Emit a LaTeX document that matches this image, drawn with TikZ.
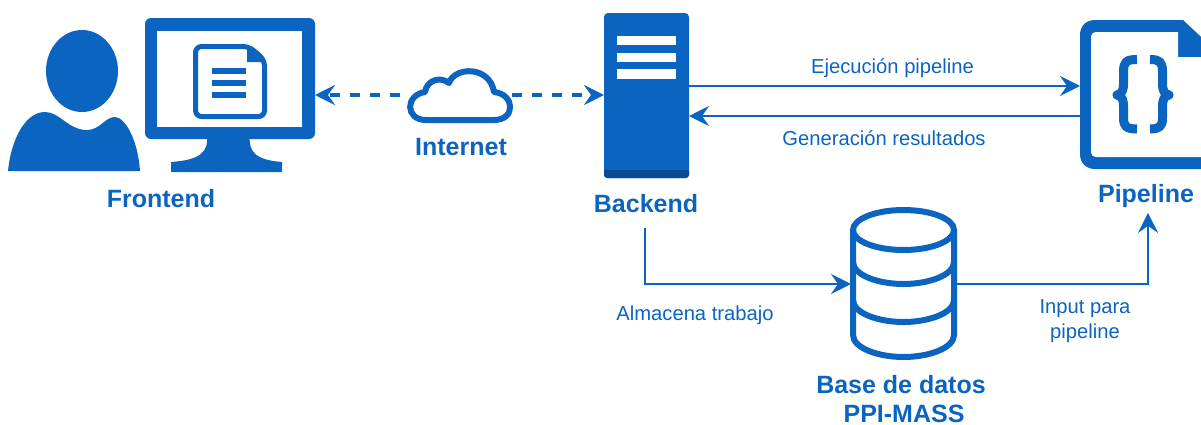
\documentclass[tikz,border=0pt]{standalone}
\usepackage{fontspec}
\setmainfont{Liberation Sans}
\usetikzlibrary{arrows.meta}
\definecolor{myBlue}{HTML}{0A64C0}
\definecolor{myDark}{HTML}{0A4A94}
\tikzstyle{iconBox} = [rectangle, inner sep=0pt, outer sep=0pt]
\tikzstyle{iconFill} = [iconBox, fill=myBlue, rounded corners=4pt]
\tikzstyle{bigLabel} = [text=myBlue, font=\fontsize{25}{30}\selectfont\bfseries, inner sep=0pt]
\tikzstyle{smallLabel} = [text=myBlue, font=\fontsize{20.2}{25}\selectfont, align=center, inner sep=0pt]
\tikzstyle{flow} = [draw=myBlue, line width=2.8pt, -{Stealth[length=20pt,width=20pt,inset=7pt]}]
\tikzstyle{netFlow} = [flow, line width=3.4pt, dash pattern=on 10pt off 10pt]
\tikzstyle{iconLine} = [draw=myBlue, line width=6pt]

\begin{document}
\begin{tikzpicture}[x=1pt,y=-1pt]
		\clip (0,0) rectangle (1201,424);
		
		% frontend
		\fill [myBlue] (82,71) ellipse (36 and 41);
		\fill [myBlue] (8,171) .. controls (11,140) and (25,112) .. (45,112) .. controls (60,112) and (68,130) .. (87,130) .. controls (100,130) and (105,117) .. (115,117) .. controls (125,117) and (138,140) .. (140,171) -- cycle;
		\fill [myBlue] (207,135) .. controls (209,152) and (200,160) .. (171,162) -- (171,172) -- (282,172) -- (282,162) .. controls (256,160) and (248,152) .. (250,135) -- cycle;
		\node [iconFill,rounded corners=6pt,minimum width=170pt,minimum height=121pt](monitor) at (230,78.5){};
		\node [iconBox,fill=white,minimum width=145pt,minimum height=96pt](screen) at (229.5,79){};
		\draw [myBlue,line width=5pt,rounded corners=6pt] (195.5,46.5) -- (249,46.5) -- (264.5,60) -- (264.5,116.5) -- (195.5,116.5) -- cycle;
		\fill [myBlue] (247,48) -- (247,62) -- (265,62) -- cycle;
		\foreach \yy in {71,83,95}
			\fill [myBlue] (212,\yy-3) rectangle (246,\yy+3);
		\node [bigLabel](frontendLabel) at (161,199){Frontend};
		
		% internet
		\node [iconBox,minimum width=112pt,minimum height=50pt](cloud) at (456,95){};
		\draw [iconLine,line join=round] (426,120) .. controls (405,120) and (405,95) .. (425,92) .. controls (427,80) and (440,76) .. (449,83) .. controls (455,66) and (490,66) .. (494,92) .. controls (515,94) and (516,120) .. (494,120) -- cycle;
		\node [bigLabel](internetLabel) at (461,147){Internet};
		
		% backend
		\node [iconFill,minimum width=85pt,minimum height=165pt](backend) at (646.5,95.5){};
		\fill [myDark,rounded corners=3pt] (604,168) -- (604,178) -- (689,178) -- (689,168) -- cycle;
		\fill [myBlue] (604,165) rectangle (689,170);
		\foreach \yy in {40.5,57.5,74}
			\fill [white] (617,\yy-4.7) rectangle (676,\yy+4.7);
		\node [bigLabel](backendLabel) at (646,204){Backend};
		
		% pipeline
		\node [iconBox,minimum width=135pt,minimum height=149pt](pipeline) at (1147.5,94.5){};
		\fill [myBlue] (1095,20) -- (1183,20) -- (1215,50) -- (1215,169) -- (1095,169) .. controls (1086,169) and (1080,163) .. (1080,154) -- (1080,35) .. controls (1080,26) and (1086,20) .. (1095,20) -- cycle;
		\fill [white] (1097,32) -- (1178,32) -- (1178,57) -- (1215,57) -- (1215,157) -- (1097,157) .. controls (1093,157) and (1091,155) .. (1091,151) -- (1091,38) .. controls (1091,34) and (1093,32) .. (1097,32) -- cycle;
		\draw [myBlue,line width=9pt,line join=round] (1137,59.5) .. controls (1126,59.5) and (1123.5,62) .. (1123.5,72) -- (1123.5,84) .. controls (1123.5,90) and (1122,94) .. (1117,95) .. controls (1122,96) and (1123.5,100) .. (1123.5,106) -- (1123.5,118) .. controls (1123.5,126) and (1126,129) .. (1137,129);
		\draw [myBlue,line width=9pt,line join=round] (1150,59.5) .. controls (1160,59.5) and (1162.5,62) .. (1162.5,72) -- (1162.5,84) .. controls (1162.5,90) and (1164,94) .. (1169,95) .. controls (1164,96) and (1162.5,100) .. (1162.5,106) -- (1162.5,118) .. controls (1162.5,126) and (1160,129) .. (1150,129);
		\node [bigLabel](pipelineLabel) at (1146,196){Pipeline};
		
		% base de datos
		\node [iconBox,minimum width=106pt,minimum height=152pt](database) at (904,284){};
		\draw [iconLine] (903.5,230) ellipse (50.5 and 20);
		\draw [iconLine] (853,230) -- (853,335) .. controls (853,348) and (878,357) .. (903.5,357) .. controls (929,357) and (954,348) .. (954,335) -- (954,230);
		\foreach \yy in {262,300}
			\draw [iconLine] (853,\yy) .. controls (853,\yy+13) and (878,\yy+22) .. (903.5,\yy+22) .. controls (929,\yy+22) and (954,\yy+13) .. (954,\yy);
		\node [bigLabel](databaseLabel) at (901,385){Base de datos};
		\node [bigLabel](massLabel) at (904,413.5){PPI-MASS};
		
		\coordinate (storeStart) at (645,228);
		\draw [netFlow] (cloud.west) -- (monitor.east |- cloud.west);
		\draw [netFlow] (cloud.east) -- (backend.west |- cloud.east);
		\draw [flow] ([yshift=9.5pt]backend.east) -- ([yshift=9.5pt]backend.east -| pipeline.west);
		\draw [flow] ([yshift=-20.5pt]backend.east -| pipeline.west) -- ([yshift=-20.5pt]backend.east);
		\draw [flow] (storeStart) |- (database.west);
		\draw [flow] (database.east) -| ([xshift=2pt,yshift=-5pt]pipelineLabel.south);
		
		\node [smallLabel](runLabel) at (892.5,68){Ejecución pipeline};
		\node [smallLabel](resultLabel) at (884,138){Generación resultados};
		\node [smallLabel](storeLabel) at (695,315){Almacena trabajo};
		\node [smallLabel](inputLabel) at (1085,321){Input para\\pipeline};
		
		\end{tikzpicture}
\end{document}
